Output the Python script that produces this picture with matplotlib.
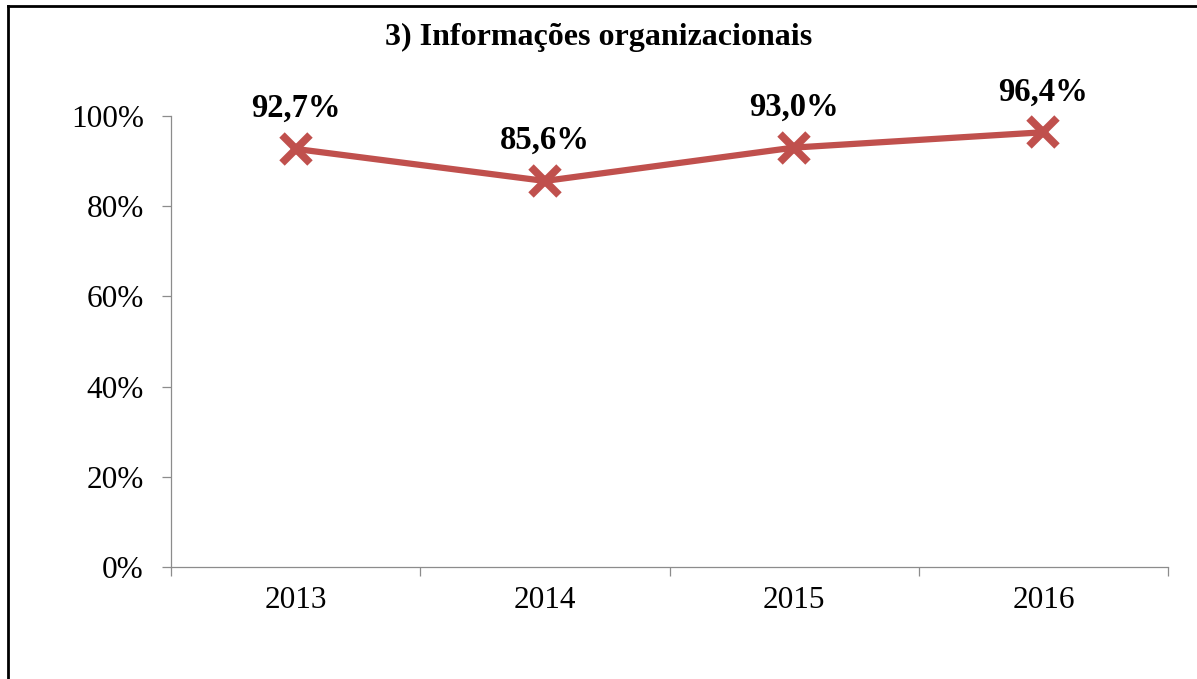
import matplotlib
matplotlib.use("Agg")
import matplotlib.pyplot as plt
from matplotlib.lines import Line2D
from matplotlib.ticker import FuncFormatter, FixedLocator

years = ["2013", "2014", "2015", "2016"]
values = [92.7, 85.6, 93.0, 96.4]
labels = ["92,7%", "85,6%", "93,0%", "96,4%"]
yticks = [0, 20, 40, 60, 80, 100]

title = "3) Informações organizacionais"
line_color = "#C0504D"
axis_gray = "#8C8C8C"

plt.rcParams["font.family"] = ["Liberation Serif", "DejaVu Serif"]

fig = plt.figure(figsize=(11.97, 6.79), dpi=100)
ax = fig.add_axes([171 / 1197, 112 / 679, 997 / 1197, 451 / 679])

x = list(range(len(years)))
ax.plot(x, values, color=line_color, linewidth=4.5, marker="x",
        markersize=20, markeredgewidth=5.5, clip_on=False, zorder=3)

for xi, v, lab in zip(x, values, labels):
    ax.annotate(lab, (xi, v), xytext=(0, 23), textcoords="offset points",
                ha="center", va="baseline", fontsize=23.5, fontweight="bold")

ax.set_xlim(-0.5, len(years) - 0.5)
ax.set_ylim(0, 100)

# category labels without ticks, ticks at the category boundaries
ax.set_xticks(x)
ax.set_xticklabels(years, fontsize=22.5)
ax.xaxis.set_minor_locator(FixedLocator([i - 0.5 for i in range(len(years) + 1)]))
ax.tick_params(axis="x", which="major", length=0, pad=14)
ax.tick_params(axis="x", which="minor", length=6.5, width=0.9, color=axis_gray, direction="out")

ax.set_yticks(yticks)
ax.yaxis.set_major_formatter(FuncFormatter(lambda v, p: f"{v:.0f}%"))
ax.tick_params(axis="y", length=6.5, width=0.9, color=axis_gray, pad=13, labelsize=22.5)

for side in ["top", "right"]:
    ax.spines[side].set_visible(False)
for side in ["left", "bottom"]:
    ax.spines[side].set_color(axis_gray)
    ax.spines[side].set_linewidth(0.9)

fig.text(0.5, 1 - 37 / 679, title, ha="center", va="center",
         fontsize=23, fontweight="bold")

# frame around the chart (left and top edges visible)
fig.add_artist(Line2D([8 / 1197, 8 / 1197], [0, 1 - 6 / 679], transform=fig.transFigure,
                      color="black", linewidth=2))
fig.add_artist(Line2D([8 / 1197, 1], [1 - 6 / 679, 1 - 6 / 679], transform=fig.transFigure,
                      color="black", linewidth=2))

fig.savefig("out.png", dpi=100)
